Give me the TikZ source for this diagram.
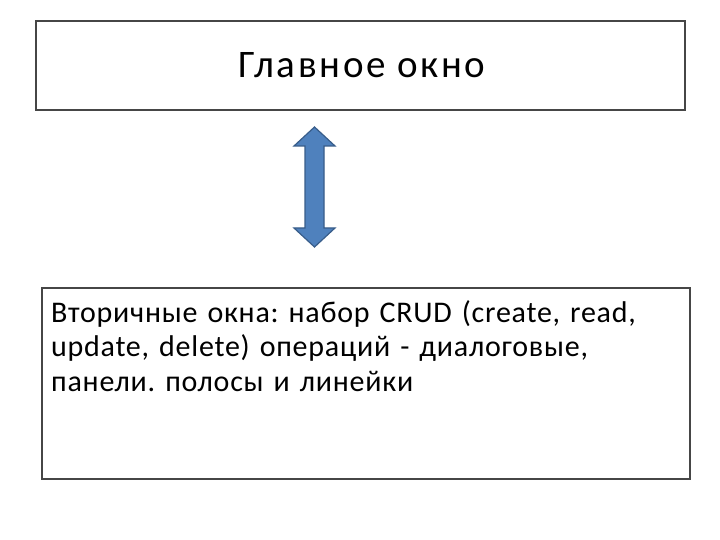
\documentclass[tikz,border=0pt]{standalone}
\usepackage{fontspec}
\setmainfont{Carlito}[LetterSpace=2.5,WordSpace=0.75]
\newfontfamily\titlefont{Carlito}[LetterSpace=6.8]
\definecolor{boxline}{RGB}{70,70,70}
\definecolor{arrowfill}{RGB}{79,129,189}
\definecolor{arrowline}{RGB}{56,93,138}
\begin{document}
\frenchspacing
\begin{tikzpicture}[x=1pt,y=-1pt,
  panel/.style={draw=boxline,line width=1.2pt,fill=white},
  title/.style={font=\titlefont\fontsize{39}{46}\selectfont,anchor=base},
  body/.style={font=\fontsize{30}{34.5}\selectfont,anchor=base west,align=left,inner sep=0pt,text width=640pt}]
\useasboundingbox (0,0) rectangle (720,540);
\fill[white] (0,0) rectangle (720,540);
\draw[panel] (36,21) rectangle (685,110);
\coordinate (topc) at (362,77.3);
\node[title] (t) at (topc) {Главное окно};
\draw[panel] (42,288) rectangle (690,479);
\node[body] (b) at (51,322.3) {Вторичные окна: набор CRUD (create, read,\\update, delete) операций - диалоговые,\\панели. полосы и линейки};
\draw[fill=arrowfill,draw=arrowline,line width=1.2pt,line join=miter]
  (314.5,127) -- (335,146) -- (324,146) -- (324,228) -- (335,228) -- (314.5,247)
  -- (294,228) -- (305,228) -- (305,146) -- (294,146) -- cycle;
\end{tikzpicture}
\end{document}
